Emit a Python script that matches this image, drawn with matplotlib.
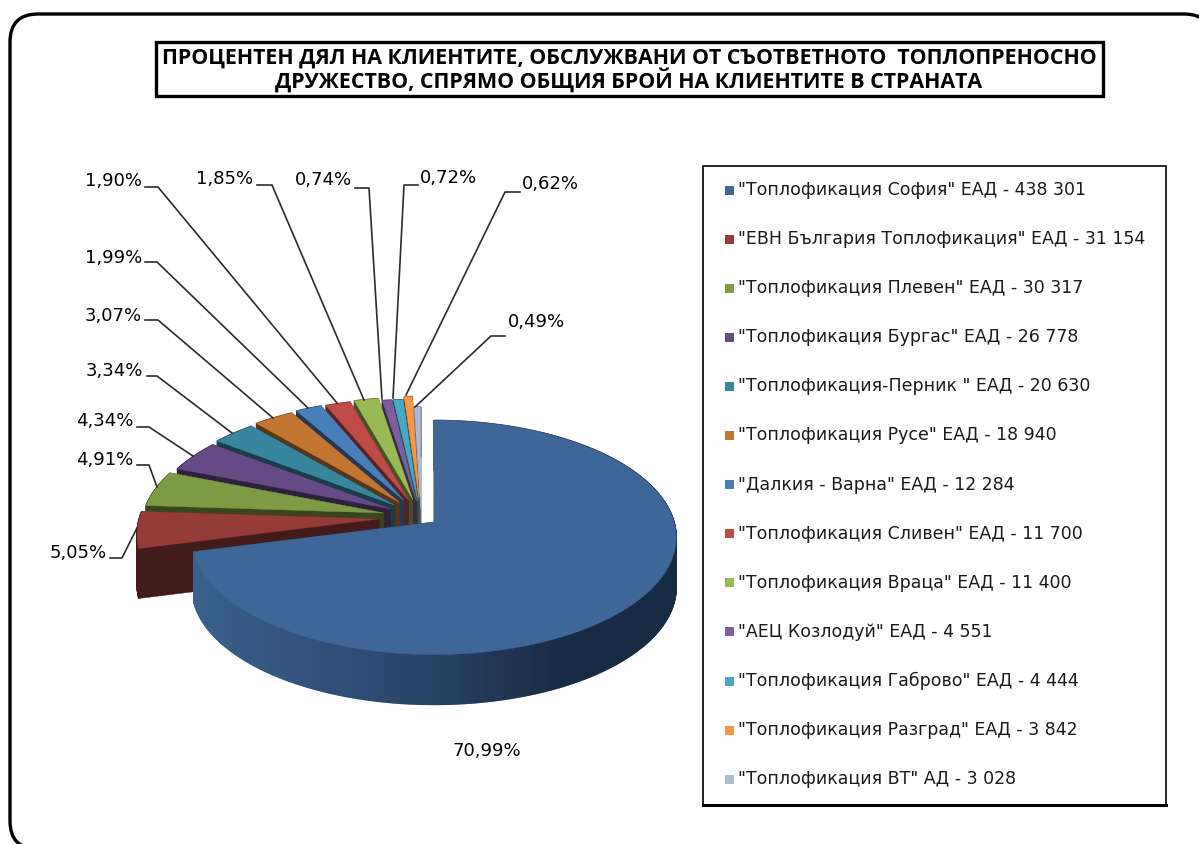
import numpy as np
import matplotlib
matplotlib.use("Agg")
import matplotlib.pyplot as plt
from matplotlib.patches import Polygon, Rectangle, FancyBboxPatch
from matplotlib.colors import to_rgb

names = ['"Топлофикация София" ЕАД', '"ЕВН България Топлофикация" ЕАД', '"Топлофикация Плевен" ЕАД',
         '"Топлофикация Бургас" ЕАД', '"Топлофикация-Перник " ЕАД', '"Топлофикация Русе" ЕАД',
         '"Далкия - Варна" ЕАД', '"Топлофикация Сливен" ЕАД', '"Топлофикация Враца" ЕАД',
         '"АЕЦ Козлодуй" ЕАД', '"Топлофикация Габрово" ЕАД', '"Топлофикация Разград" ЕАД',
         '"Топлофикация ВТ" АД']
clients = [438301, 31154, 30317, 26778, 20630, 18940, 12284, 11700, 11400, 4551, 4444, 3842, 3028]
explode = [0.065, 0.175, 0.16, 0.145, 0.15, 0.155, 0.16, 0.155, 0.16, 0.14, 0.14, 0.165, 0.074]
colors = ['#3E6797', '#953B39', '#7D9A44', '#664A85', '#38869E', '#C27632',
          '#4A7EBB', '#BE4B48', '#98B954', '#7D5FA0', '#46AAC5', '#F79646', '#AABAD7']

title = "ПРОЦЕНТЕН ДЯЛ НА КЛИЕНТИТЕ, ОБСЛУЖВАНИ ОТ СЪОТВЕТНОТО  ТОПЛОПРЕНОСНО\nДРУЖЕСТВО, СПРЯМО ОБЩИЯ БРОЙ НА КЛИЕНТИТЕ В СТРАНАТА"

# pie geometry in pixels
CX, CY = 421, 517
RX, RY = 240, 115
PERSP = 0.132
DEPTH = 50

# label anchor, leader line
labels_pos = [(487, 751, 'center'), (107, 553, 'right'), (133, 460, 'right'), (133, 421, 'right'),
              (143, 371, 'right'), (142, 316, 'right'), (142, 258, 'right'), (142, 181, 'right'),
              (253, 179, 'right'), (352, 180, 'right'), (420, 178, 'left'), (522, 184, 'left'), (508, 322, 'left')]
leaders = [None,
           [(110, 558), (122, 558), (137, 528)],
           [(137, 465), (149, 465), (157, 487)],
           [(137, 427), (149, 427), (193, 456)],
           [(147, 376), (157, 376), (232, 433)],
           [(145, 320), (158, 320), (273, 418)],
           [(145, 262), (157, 262), (308, 408)],
           [(145, 187), (158, 187), (337, 403)],
           [(257, 185), (272, 185), (364, 400)],
           [(355, 188), (369, 188), (382, 399)],
           [(418, 185), (404, 185), (393, 398)],
           [(520, 192), (505, 192), (406, 395)],
           [(505, 336), (491, 336), (415, 407)]]

total = sum(clients)
edges = np.cumsum([0] + clients) / total * 2 * np.pi


def point(th, ax_, ay_):
    w = 1 + PERSP * np.cos(th)
    return ax_ + RX * np.sin(th) / w, ay_ - RY * np.cos(th) / w


def blue_side(x):
    stops_x = [195, 300, 430, 560, 677]
    stops = [to_rgb(c) for c in ['#3A608C', '#32537C', '#2A4366', '#182B44', '#172B43']]
    return [np.interp(x, stops_x, [s[i] for s in stops]) for i in range(3)]


fig = plt.figure(figsize=(11.99, 8.44), dpi=100)
ax = fig.add_axes([0, 0, 1, 1])
ax.set_xlim(0, 1199)
ax.set_ylim(844, 0)
ax.axis('off')

ax.add_patch(FancyBboxPatch((10, 14), 1202, 835, boxstyle="round,pad=0,rounding_size=28",
                            fc='white', ec='black', lw=2.4, zorder=0))
ax.add_patch(Rectangle((156, 42), 947, 54, fc='white', ec='black', lw=2.4, zorder=5))
ax.text(629, 70, title, ha='center', va='center', fontsize=15.4, fontweight='bold', family='Open Sans',
        linespacing=0.96, zorder=6)

# slices from back to front
order = list(range(len(clients) - 1, 0, -1)) + [0]
z = 2
for i in order:
    a, b = edges[i], edges[i + 1]
    mid = (a + b) / 2
    px = CX + explode[i] * RX * np.sin(mid)
    py = CY - explode[i] * RY * np.cos(mid)
    if i == 0:
        px, py = 434, 522
    th = np.linspace(a, b, max(int((b - a) * 120), 4))
    xs, ys = point(th, px, py)
    dark = tuple(c * 0.45 for c in to_rgb(colors[i]))

    # cut walls
    for t in (b, a):
        x1, y1 = point(t, px, py)
        ax.add_patch(Polygon([(px, py), (x1, y1), (x1, y1 + DEPTH), (px, py + DEPTH)], fc=dark, ec=dark, lw=0.3, zorder=z))
    # outer wall
    for k in range(len(th) - 1):
        col = blue_side((xs[k] + xs[k + 1]) / 2) if i == 0 else dark
        ax.add_patch(Polygon([(xs[k], ys[k]), (xs[k + 1], ys[k + 1]), (xs[k + 1], ys[k + 1] + DEPTH), (xs[k], ys[k] + DEPTH)],
                             fc=col, ec=col, lw=1.0, joinstyle='miter', zorder=z))
    ax.add_patch(Polygon(np.vstack([[px, py], np.column_stack([xs, ys])]), fc=colors[i], ec=colors[i], lw=0.3,
                         joinstyle='miter', zorder=z + 0.5))
    z += 1

# leader lines and labels
for i in range(len(clients)):
    if leaders[i] is not None:
        lx, ly = zip(*leaders[i])
        ax.plot(lx, ly, color='#2b2b2b', lw=1.2, zorder=40)
    tx, ty, ha = labels_pos[i]
    pct = f"{100 * clients[i] / total:.2f}".replace('.', ',') + '%'
    ax.text(tx, ty, pct, ha=ha, va='center', fontsize=13, color='black', zorder=41)

# legend
ax.add_patch(Rectangle((703, 166), 463, 639, fc='white', ec='black', lw=1.2, zorder=30))
ax.plot([703, 1166], [804.5, 804.5], color='black', lw=2.2, zorder=31)
for i, (name, val) in enumerate(zip(names, clients)):
    yy = 190 + i * 49.1
    ax.add_patch(Rectangle((725, yy - 4.5), 9, 9, fc=colors[i], ec='none', zorder=32))
    val_s = f"{val:,}".replace(',', ' ')
    ax.text(738, yy, f"{name} - {val_s}", ha='left', va='center', fontsize=12.55, color='#1a1a1a', zorder=32)

fig.savefig("out.png", dpi=100, facecolor='white')
